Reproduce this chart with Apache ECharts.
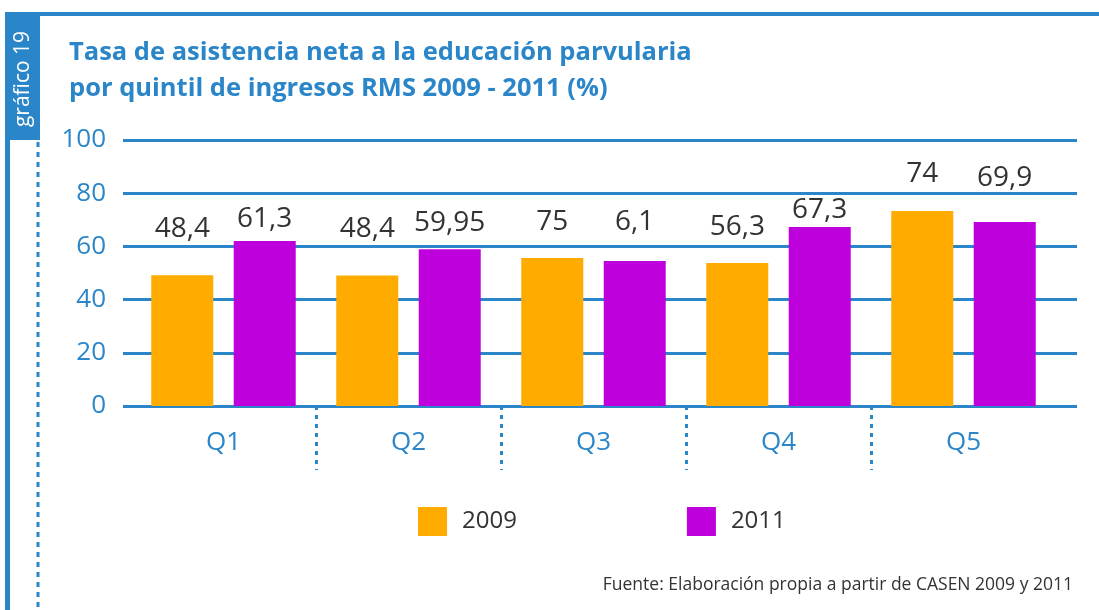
<!DOCTYPE html>
<html>
<head>
<meta charset="utf-8">
<script src="https://cdn.jsdelivr.net/npm/echarts@6/dist/echarts.min.js"></script>
<style>
  html, body { margin: 0; padding: 0; background: #fff; }
  #chart { width: 1099px; height: 610px; }
</style>
</head>
<body>
<div id="chart"></div>
<script>
// datos
var quintiles = ['Q1', 'Q2', 'Q3', 'Q4', 'Q5']
var seriesNames = ['2009', '2011']
var valores2009 = [49.2, 49.1, 55.6, 53.8, 73.3]
var valores2011 = [62.0, 58.9, 54.5, 67.3, 69.2]
// etiquetas tal como aparecen en el grafico original
var etiquetas2009 = ['48,4', '48,4', '75', '56,3', '74']
var etiquetas2011 = ['61,3', '59,95', '6,1', '67,3', '69,9']
var yTicks = [0, 20, 40, 60, 80, 100]

var azul = '#2a86c8'
var naranjo = '#ffab00'
var morado = '#bd00dc'
var fuente = '"Open Sans", "DejaVu Sans", sans-serif'

// separacion etiqueta-barra (px), las etiquetas no estan justo sobre las barras
var dist2009 = [32, 32, 22, 22, 23]
var dist2011 = [8, 12, 25, 3, 30]

function buildData (vals, labels, dists) {
  return vals.map(function (v, i) {
    return {
      value: v,
      label: { distance: dists[i], formatter: labels[i] }
    }
  })
}

var chart = echarts.init(document.getElementById('chart'))

var option = {
  animation: false,
  title: {
    text: 'Tasa de asistencia neta a la educación parvularia\npor quintil de ingresos RMS 2009 - 2011 (%)',
    left: 64,
    top: 30,
    textStyle: {
      color: azul,
      fontFamily: fuente,
      fontWeight: 'bold',
      fontSize: 25.5,
      lineHeight: 36
    }
  },
  legend: {
    data: seriesNames,
    left: 418,
    top: 507,
    padding: 0,
    itemWidth: 29,
    itemHeight: 29,
    itemGap: 170,
    icon: 'rect',
    textStyle: {
      color: '#333',
      fontFamily: fuente,
      fontSize: 24,
      padding: [0, 0, 0, 10]
    }
  },
  grid: [
    // lineas horizontales
    { left: 123, right: 22, top: 140, height: 266 },
    // barras
    { left: 131, right: 43, top: 140, height: 266 },
    // separadores punteados
    { left: 131, right: 43, top: 406, height: 64 }
  ],
  xAxis: [
    { gridIndex: 0, type: 'value', show: false },
    {
      gridIndex: 1,
      type: 'category',
      data: quintiles,
      axisLine: { show: false },
      axisTick: { show: false },
      axisLabel: {
        color: azul,
        fontFamily: fuente,
        fontSize: 26,
        margin: 24
      }
    },
    {
      gridIndex: 2,
      type: 'value',
      min: 0,
      max: quintiles.length,
      interval: 1,
      axisLine: { show: false },
      axisTick: { show: false },
      axisLabel: { show: false },
      splitLine: {
        show: true,
        showMinLine: false,
        showMaxLine: false,
        lineStyle: { color: azul, width: 3, type: [4, 5] }
      }
    }
  ],
  yAxis: [
    {
      gridIndex: 0,
      type: 'value',
      min: yTicks[0],
      max: yTicks[yTicks.length - 1],
      interval: 20,
      axisLine: { show: false },
      axisTick: { show: false },
      axisLabel: {
        color: azul,
        fontFamily: fuente,
        fontSize: 26,
        margin: 17
      },
      splitLine: { lineStyle: { color: azul, width: 3 } }
    },
    { gridIndex: 1, type: 'value', min: 0, max: 100, show: false },
    { gridIndex: 2, type: 'value', show: false }
  ],
  series: [
    {
      name: seriesNames[0],
      type: 'bar',
      xAxisIndex: 1,
      yAxisIndex: 1,
      barWidth: 62,
      barGap: '33%',
      itemStyle: { color: naranjo },
      label: {
        show: true,
        position: 'top',
        color: '#333',
        fontFamily: fuente,
        fontSize: 28
      },
      data: buildData(valores2009, etiquetas2009, dist2009)
    },
    {
      name: seriesNames[1],
      type: 'bar',
      xAxisIndex: 1,
      yAxisIndex: 1,
      barWidth: 62,
      barGap: '33%',
      itemStyle: { color: morado },
      label: {
        show: true,
        position: 'top',
        color: '#333',
        fontFamily: fuente,
        fontSize: 28
      },
      data: buildData(valores2011, etiquetas2011, dist2011)
    }
  ],
  graphic: [
    // linea superior
    { type: 'rect', shape: { x: 5, y: 12, width: 1094, height: 4 }, style: { fill: azul }, silent: true },
    // barra lateral
    { type: 'rect', shape: { x: 5, y: 12, width: 5, height: 598 }, style: { fill: azul }, silent: true },
    { type: 'rect', shape: { x: 5, y: 12, width: 35, height: 128 }, style: { fill: azul }, silent: true },
    {
      type: 'line',
      shape: { x1: 38, y1: 142, x2: 38, y2: 610 },
      style: { stroke: azul, lineWidth: 3, lineDash: [5, 5] },
      silent: true
    },
    {
      type: 'text',
      x: 23,
      y: 79,
      rotation: Math.PI / 2,
      style: {
        text: 'gráfico 19',
        fill: '#fff',
        font: '21px ' + fuente,
        textAlign: 'center',
        textVerticalAlign: 'middle'
      },
      silent: true
    },
    {
      type: 'text',
      x: 1073,
      y: 585,
      style: {
        text: 'Fuente: Elaboración propia a partir de CASEN 2009 y 2011',
        fill: '#333',
        font: '17.5px ' + fuente,
        textAlign: 'right',
        textVerticalAlign: 'middle'
      },
      silent: true
    }
  ]
}

chart.setOption(option)
</script>
</body>
</html>
